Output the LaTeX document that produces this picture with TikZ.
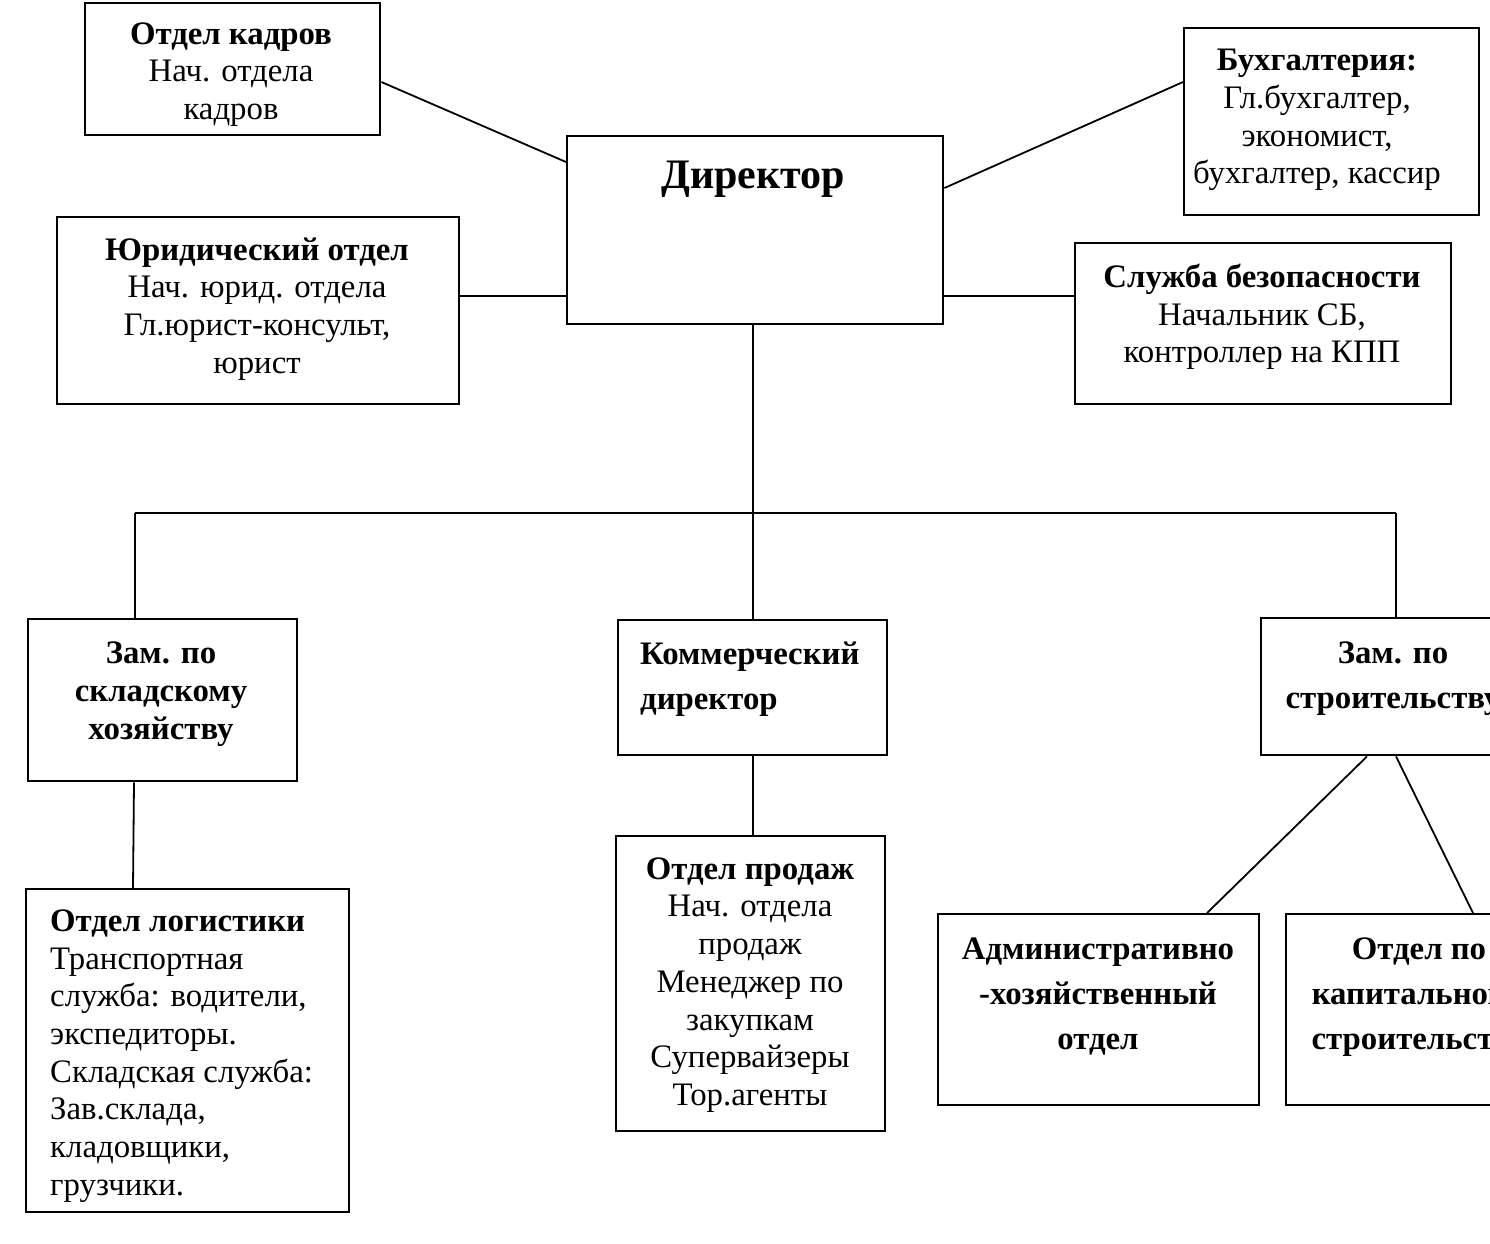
\documentclass[tikz,border=0pt]{standalone}
\usepackage{fontspec}
\setmainfont{Liberation Serif}
\begin{document}
\begin{tikzpicture}[x=1pt,y=-1pt,
  box/.style={draw, line width=2.4pt, anchor=north west, inner sep=0pt},
  conn/.style={line width=1.8pt},
  txt/.style={inner sep=0pt, align=center, font=\fontsize{32.8}{37.7}\selectfont},
  btxt/.style={inner sep=0pt, align=center, font=\fontsize{32.8}{37.7}\selectfont\bfseries},
  bwide/.style={inner sep=0pt, align=center, font=\fontsize{32.8}{45}\selectfont\bfseries},
  ltxt/.style={inner sep=0pt, align=left, font=\fontsize{32.8}{37.7}\selectfont}]
\useasboundingbox (0,0) rectangle (1490,1243);
\clip (0,0) rectangle (1490,1243);
\fill[white] (0,0) rectangle (1490,1243);
% boxes
\node[box, minimum width=295, minimum height=132] (kadry) at (84,2) {};
\node[box, minimum width=376, minimum height=188] (dir) at (566,135) {};
\node[box, minimum width=295, minimum height=187] (buh) at (1183,27) {};
\node[box, minimum width=402, minimum height=187] (yur) at (56,216) {};
\node[box, minimum width=376, minimum height=161] (sb) at (1074,242) {};
\node[box, minimum width=269, minimum height=162] (zam1) at (27,618) {};
\node[box, minimum width=269, minimum height=135] (kom) at (617,619) {};
\node[box, minimum width=280, minimum height=137] (zam3) at (1260,617) {};
\node[box, minimum width=323, minimum height=323] (log) at (25,888) {};
\node[box, minimum width=269, minimum height=295] (prod) at (615,835) {};
\node[box, minimum width=321, minimum height=191] (aho) at (937,913) {};
\node[box, minimum width=280, minimum height=191] (kap) at (1285,913) {};
% texts
\node[txt] (tkadry) at (231,74.5) {\textbf{Отдел кадров}\\Нач. отдела\\кадров};
\node[inner sep=0pt, font=\fontsize{42}{48}\selectfont\bfseries] (tdir) at (753,179) {Директор};
\node[txt] (tbuh) at (1317,120) {\textbf{Бухгалтерия:}\\Гл.бухгалтер,\\экономист,\\бухгалтер, кассир};
\node[txt] (tyur) at (257,309) {\textbf{Юридический отдел}\\Нач. юрид. отдела\\Гл.юрист-консульт,\\юрист};
\node[txt] (tsb) at (1262,317) {\textbf{Служба безопасности}\\Начальник СБ,\\контроллер на КПП};
\node[btxt] (tzam1) at (161,694) {Зам. по\\складскому\\хозяйству};
\node[bwide, align=left, anchor=west] (tkom) at (640,679) {Коммерческий\\директор};
\node[bwide] (tzam3) at (1393,679) {Зам. по\\строительству};
\node[ltxt, anchor=west] (tlog) at (50,1056) {\textbf{Отдел логистики}\\Транспортная\\служба: водители,\\экспедиторы.\\Складская служба:\\Зав.склада,\\кладовщики,\\грузчики.};
\node[txt] (tprod) at (750,985) {\textbf{Отдел продаж}\\Нач. отдела\\продаж\\Менеджер по\\закупкам\\Супервайзеры\\Тор.агенты};
\node[bwide] (taho) at (1098,997) {Административно\\-хозяйственный\\отдел};
\node[bwide] (tkap) at (1419,997) {Отдел по\\капитальному\\строительству};
% connectors
\coordinate (j) at (753,513);
\coordinate (jl) at (135,513);
\coordinate (jr) at (1396,513);
\draw[conn] ([yshift=-80pt]kadry.north east) -- ([yshift=-27pt]dir.north west);
\draw[conn] ([yshift=-55pt]buh.north west) -- ([yshift=-53pt]dir.north east);
\draw[conn] ([yshift=-80pt]yur.north east) -- ([yshift=-161pt]dir.north west);
\draw[conn] ([yshift=-161pt]dir.north east) -- ([yshift=-54pt]sb.north west);
\draw[conn] (j |- dir.south) -- (j);
\draw[conn] (jl) -- (jr);
\draw[conn] (jl) -- (jl |- zam1.north);
\draw[conn] (j) -- (j |- kom.north);
\draw[conn] (jr) -- (jr |- zam3.north);
\draw[conn] ([xshift=107pt]zam1.south west) -- ([xshift=108pt]log.north west);
\draw[conn] (kom.south) -- (kom.south |- prod.north);
\draw[conn] ([xshift=107pt]zam3.south west) -- ([xshift=270pt]aho.north west);
\draw[conn] ([xshift=136pt]zam3.south west) -- ([xshift=188pt]kap.north west);
\end{tikzpicture}
\end{document}
